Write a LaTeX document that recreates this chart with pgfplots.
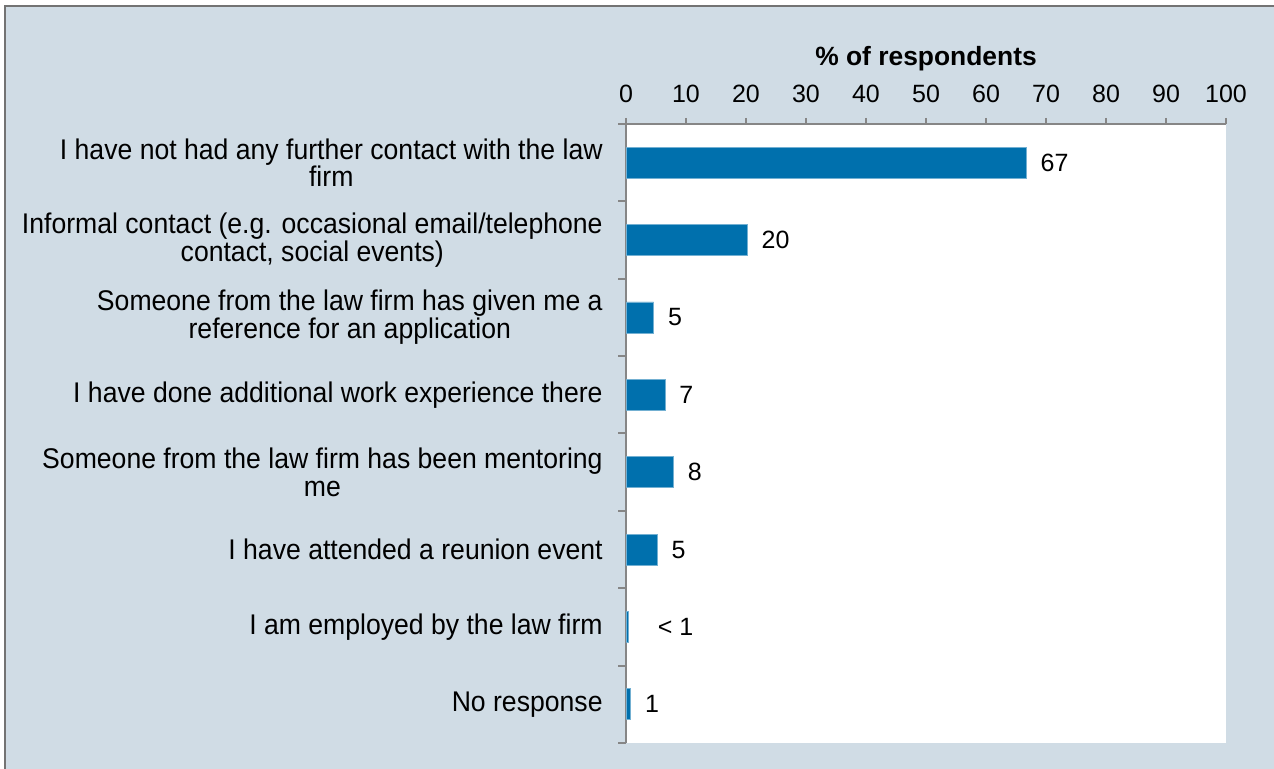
\documentclass[border=0pt]{standalone}
\usepackage{pgfplots}
\pgfplotsset{compat=1.18}
\usepackage{fontspec}
\setmainfont{Liberation Sans}
\definecolor{bgc}{RGB}{208,220,229}
\definecolor{barc}{RGB}{0,112,173}
\definecolor{axc}{RGB}{134,134,134}
\begin{document}
\begin{tikzpicture}
\useasboundingbox (0,0) rectangle (637pt,384.5pt);
\fill[white] (0,0) rectangle (637pt,384.5pt);
\fill[bgc] (2.5pt,0) rectangle (637pt,381.5pt);
\draw[black!55, line width=1.2pt] (2.5pt,0) -- (2.5pt,381.5pt) -- (637pt,381.5pt);
\begin{axis}[
  at={(313pt,13pt)}, anchor=south west,
  scale only axis, width=300pt, height=309.5pt,
  xbar, bar width=15.5pt,
  xmin=0, xmax=100, ymin=-0.5, ymax=7.5,
  axis background/.style={fill=white},
  axis x line*=top, axis y line*=left,
  axis line style={axc, line width=1pt},
  xtick={0,10,...,100},
  ytick={0,...,7},
  /pgf/number format/assume math mode=true,
  yticklabels={No response, I am employed by the law firm, I have attended a reunion event, {Someone from the law firm has been mentoring\\me}, I have done additional work experience there, {Someone from the law firm has given me a\\reference for an application}, {Informal contact (e.g. occasional email/telephone\\contact, social events)}, {I have not had any further contact with the law\\firm}},
  minor ytick={-0.5,0.5,...,7.5},
  tick align=outside,
  major tick length=3pt,
  minor tick length=4pt,
  tick style={axc, line width=1pt},
  major y tick style={draw=none},
  xticklabel style={font=\fontsize{12.5}{14}\selectfont, yshift=4pt},
  yticklabel style={font=\fontsize{13.3}{13}\selectfont, align=center, anchor=east, inner sep=0pt, xshift=-8.5pt, yscale=1.07},
  title={\textbf{\% of respondents}},
  title style={at={(0.5,1)}, anchor=base, yshift=23pt, inner sep=0pt, font=\fontsize{13.2}{15}\selectfont},
  point meta=explicit symbolic,
  nodes near coords,
  every node near coord/.append style={anchor=west, inner sep=0pt, xshift=7pt, font=\fontsize{12.5}{14}\selectfont, text=black},
]
\addplot[fill=barc, draw=barc!55!white, line width=0.4pt] coordinates {
(66.7,7) [67]
(20.2,6) [20]
(4.6,5) [5]
(6.5,4) [7]
(7.9,3) [8]
(5.2,2) [5]
(0.4,1) [\hspace*{7.5pt}< 1]
(0.8,0) [1]
};
\end{axis}
\end{tikzpicture}
\end{document}
